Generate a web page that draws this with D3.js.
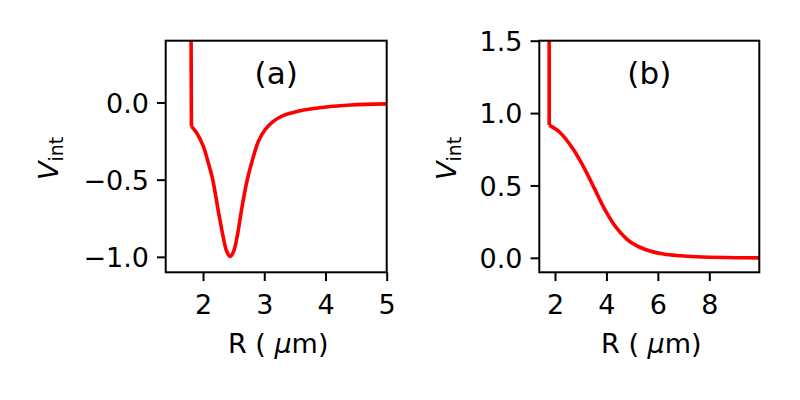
<!DOCTYPE html>
<html>
<head>
<meta charset="utf-8">
<script src="https://cdn.jsdelivr.net/npm/d3@7"></script>
<style>
  body { margin: 0; background: #fff; }
  svg { font-family: "DejaVu Sans", sans-serif; }
  .curve { fill: none; stroke: #ff0000; stroke-width: 3.6; stroke-linejoin: round; }
  .frame { fill: none; stroke: #000; stroke-width: 2; }
</style>
</head>
<body>
<script>
// panel (a): R values and interaction potential (first point is the hard-core wall)
const rA = [1.79, 1.81, 1.897, 2.005, 2.087, 2.159, 2.251, 2.333, 2.388, 2.443, 2.498, 2.552, 2.634, 2.716,
            2.825, 2.907, 3.016, 3.153, 3.316, 3.562, 3.754, 4.08, 4.41, 5.0];
const vA = [2.0, -0.155, -0.198, -0.285, -0.393, -0.501, -0.706, -0.879, -0.966, -0.998, -0.966, -0.879, -0.684, -0.512,
            -0.347, -0.25, -0.175, -0.121, -0.084, -0.056, -0.042, -0.026, -0.016, -0.009];
// panel (b)
const rB = [1.77, 1.775, 2.195, 2.71, 3.167, 3.556, 3.945, 4.4, 4.918, 5.568, 6.22, 6.868,
            7.5, 8.0, 9.0, 9.95];
const vB = [3.0, 0.917, 0.866, 0.75, 0.61, 0.471, 0.332, 0.205, 0.111, 0.054, 0.026, 0.014,
            0.007, 0.004, 0.001, 0.0];

const xTicksA = [2, 3, 4, 5];
const yTicksA = [0.0, -0.5, -1.0];
const xTicksB = [2, 4, 6, 8];
const yTicksB = [0.0, 0.5, 1.0, 1.5];

const width = 800, height = 400;
const fontSize = 27;
const tickLen = 8.75;

const svg = d3.select("body").append("svg")
    .attr("width", width)
    .attr("height", height);

const fmt = d => d3.format(".1f")(d).replace("-", "\u2212");

function panel(opts) {
    const { left, right, top, bottom, xDomain, yDomain, xs, ys, xTicks, yTicks,
            tag, ylabelX, id } = opts;

    const x = d3.scaleLinear().domain(xDomain).range([left, right]);
    const y = d3.scaleLinear().domain(yDomain).range([bottom, top]);

    svg.append("clipPath").attr("id", id)
      .append("rect")
        .attr("x", left).attr("y", top)
        .attr("width", right - left).attr("height", bottom - top);

    const pts = d3.zip(xs, ys);
    // wall: straight segment; rest: smooth curve
    const wall = d3.line().x(d => x(d[0])).y(d => y(d[1]));
    const smooth = d3.line().x(d => x(d[0])).y(d => y(d[1]))
        .curve(d3.curveCatmullRom.alpha(0.5));

    const g = svg.append("g").attr("clip-path", `url(#${id})`);
    g.append("path").attr("class", "curve").attr("d", wall(pts.slice(0, 2)));
    g.append("path").attr("class", "curve").attr("d", smooth(pts.slice(1)));

    // x axis
    const xAxis = d3.axisBottom(x)
        .tickValues(xTicks)
        .tickSize(tickLen)
        .tickFormat(d3.format("d"));
    const gx = svg.append("g")
        .attr("transform", `translate(0,${bottom})`)
        .call(xAxis);

    // y axis
    const yAxis = d3.axisLeft(y)
        .tickValues(yTicks)
        .tickSize(tickLen)
        .tickPadding(8)
        .tickFormat(fmt);
    const gy = svg.append("g")
        .attr("transform", `translate(${left},0)`)
        .call(yAxis);

    [gx, gy].forEach(g => {
        g.select(".domain").remove();
        g.selectAll(".tick line").attr("stroke", "#000").attr("stroke-width", 2);
        g.selectAll(".tick text")
            .attr("fill", "#000")
            .style("font-size", fontSize + "px")
            .style("font-family", "DejaVu Sans");
    });
    gx.selectAll(".tick text").attr("dy", null).attr("y", 42);
    gy.selectAll(".tick text").attr("dy", "0.36em");

    svg.append("rect")
        .attr("class", "frame")
        .attr("x", left).attr("y", top)
        .attr("width", right - left).attr("height", bottom - top);

    // panel tag
    svg.append("text")
        .attr("x", (left + right) / 2)
        .attr("y", top + 43)
        .attr("text-anchor", "middle")
        .style("font-size", "31px")
        .text(tag);

    // x label  R ( μm)
    const xl = svg.append("text")
        .attr("x", (left + right) / 2 + 2)
        .attr("y", bottom + 81)
        .attr("text-anchor", "middle")
        .style("font-size", fontSize + "px");
    xl.append("tspan").text("R ( ");
    xl.append("tspan").attr("font-style", "italic").text("\u03bc");
    xl.append("tspan").text("m)");

    // y label V_int
    const yl = svg.append("text")
        .attr("transform", `translate(${ylabelX},${(top + bottom) / 2 + 2}) rotate(-90)`)
        .attr("text-anchor", "middle")
        .style("font-size", fontSize + "px");
    yl.append("tspan").attr("font-style", "italic").text("V");
    yl.append("tspan").attr("dy", "0.26em").style("font-size", (fontSize * 0.7) + "px").text("int");
}

panel({
    id: "clipA",
    left: 165.7, right: 386.7, top: 40.7, bottom: 272.3,
    xDomain: [1.39, 5.0], yDomain: [-1.1, 0.4],
    xs: rA, ys: vA,
    xTicks: xTicksA, yTicks: yTicksA,
    tag: "(a)",
    ylabelX: 58
});

panel({
    id: "clipB",
    left: 539.3, right: 759.3, top: 40.7, bottom: 272.3,
    xDomain: [1.39, 9.944], yDomain: [-0.1, 1.5],
    xs: rB, ys: vB,
    xTicks: xTicksB, yTicks: yTicksB,
    tag: "(b)",
    ylabelX: 456
});
</script>
</body>
</html>
